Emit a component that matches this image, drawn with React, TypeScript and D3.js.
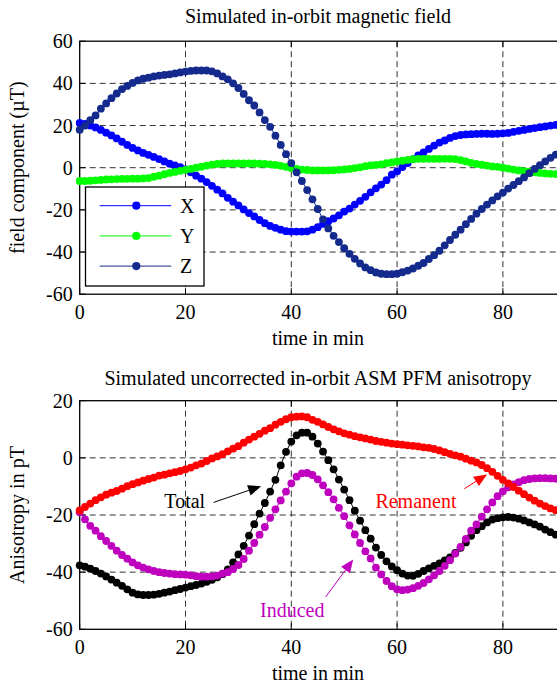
import React from "react";
import * as d3 from "d3";

// sample times (min), one marker per minute
const minutes = d3.range(0, 91);

// top panel: field components in uT
const fieldX = [
  21.2, 20.8, 20.0, 19.1, 17.9, 16.6, 15.3, 13.9, 12.3, 10.8,
  9.4, 8.2, 7.0, 6.1, 5.1, 4.1, 3.0, 1.9, 1.1, 0.3,
  -0.8, -2.2, -3.8, -5.2, -6.8, -8.6, -10.4, -12.2, -14.3, -16.1,
  -17.9, -19.8, -21.5, -23.1, -24.8, -26.3, -27.6, -28.5, -29.4, -30.1,
  -30.3, -30.3, -30.3, -30.2, -29.4, -28.2, -26.6, -25.4, -24.1, -22.6,
  -20.8, -19.4, -17.5, -15.7, -13.8, -11.7, -9.8, -8.0, -5.9, -3.3,
  -1.7, 0.3, 2.2, 4.1, 5.8, 7.3, 8.9, 10.5, 11.9, 12.9,
  14.1, 15.0, 15.5, 15.8, 15.9, 16.0, 16.1, 16.1, 16.0, 16.1,
  16.3, 16.5, 17.0, 17.5, 17.9, 18.4, 18.8, 19.2, 19.6, 20.0, 20.3,
];
const fieldY = [
  -6.3, -6.3, -6.2, -6.0, -5.8, -5.6, -5.5, -5.4, -5.3, -5.3,
  -5.2, -5.2, -5.1, -4.9, -4.3, -3.8, -3.1, -2.5, -2.0, -1.5,
  -1.0, -0.6, 0.0, 0.5, 1.0, 1.5, 1.8, 2.0, 2.0, 2.0,
  2.0, 2.0, 2.0, 2.0, 1.9, 1.8, 1.6, 1.3, 0.9, 0.4,
  -0.2, -0.6, -0.9, -1.1, -1.3, -1.3, -1.3, -1.3, -1.2, -1.0,
  -0.8, -0.6, -0.2, 0.2, 0.7, 1.1, 1.3, 1.6, 2.1, 2.5,
  3.0, 3.3, 3.7, 4.0, 4.2, 4.2, 4.2, 4.2, 4.2, 4.2,
  4.2, 4.1, 3.6, 3.0, 2.3, 1.8, 1.4, 1.0, 0.6, 0.4,
  0.0, -0.4, -0.9, -1.3, -1.6, -1.9, -2.2, -2.5, -2.7, -2.9, -3.0,
];
const fieldZ = [
  18.0, 20.0, 22.5, 24.8, 28.0, 30.5, 33.0, 35.2, 37.3, 38.8,
  40.2, 41.4, 42.2, 42.7, 43.3, 43.7, 44.0, 44.3, 44.7, 45.2,
  45.6, 45.9, 46.1, 46.1, 46.1, 45.7, 44.7, 43.3, 41.9, 40.0,
  37.8, 35.0, 32.0, 29.5, 26.2, 22.6, 19.4, 15.2, 10.8, 6.4,
  2.2, -2.2, -6.3, -10.6, -15.0, -19.6, -24.5, -28.8, -32.3, -35.3,
  -38.2, -40.9, -43.2, -45.4, -47.3, -48.6, -49.7, -50.3, -50.5, -50.5,
  -50.3, -49.6, -48.8, -47.8, -46.5, -45.2, -43.3, -41.5, -39.4, -36.8,
  -34.3, -31.8, -29.4, -26.8, -24.3, -21.8, -19.6, -17.5, -15.5, -13.6,
  -11.8, -9.9, -8.2, -6.4, -4.6, -2.6, -0.6, 1.2, 3.0, 4.7, 6.2,
];

// bottom panel: anisotropy in pT
const totalAniso = [
  -37.6, -38.1, -38.8, -39.6, -40.5, -41.5, -42.6, -43.7, -44.8, -46.0,
  -47.2, -47.8, -48.0, -48.0, -47.9, -47.6, -47.2, -46.8, -46.3, -45.9,
  -45.4, -44.9, -44.5, -44.0, -43.4, -42.7, -41.8, -40.7, -39.0, -36.6,
  -33.8, -30.8, -27.2, -23.2, -19.5, -15.8, -11.8, -7.7, -2.6, 2.1,
  5.7, 7.9, 8.8, 8.8, 7.4, 5.0, 2.2, -0.8, -4.0, -7.6,
  -11.1, -14.8, -18.5, -22.0, -25.3, -28.3, -31.4, -34.0, -36.2, -38.0,
  -39.3, -40.5, -41.2, -41.3, -40.6, -39.6, -38.7, -37.8, -36.9, -35.9,
  -34.8, -33.3, -31.5, -29.6, -27.3, -25.3, -23.9, -22.6, -21.6, -21.1,
  -20.8, -20.7, -20.9, -21.3, -21.9, -22.6, -23.3, -24.1, -25.1, -26.0, -26.9,
];
const inducedAniso = [
  -19.0, -21.5, -23.8, -25.5, -27.4, -29.1, -30.8, -32.5, -34.0, -35.3,
  -36.6, -37.6, -38.4, -39.0, -39.6, -40.0, -40.3, -40.5, -40.7, -40.8,
  -40.9, -41.1, -41.4, -41.6, -41.6, -41.5, -41.2, -40.5, -40.0, -38.9,
  -37.5, -35.4, -32.5, -29.8, -26.9, -24.2, -21.0, -18.0, -14.9, -11.8,
  -8.9, -6.6, -5.4, -5.3, -6.0, -7.5, -9.6, -12.0, -14.5, -17.5,
  -20.4, -23.6, -26.8, -29.8, -32.7, -35.2, -38.4, -40.8, -43.1, -44.9,
  -46.0, -46.3, -46.1, -45.6, -44.8, -43.8, -42.5, -41.1, -39.6, -37.8,
  -35.8, -33.5, -31.2, -28.4, -25.5, -23.3, -20.6, -18.0, -15.6, -13.4,
  -11.7, -10.3, -9.3, -8.5, -7.8, -7.4, -7.2, -7.1, -7.1, -7.2, -7.3,
];
const remanentAniso = [
  -18.4, -17.2, -16.0, -14.8, -13.8, -12.9, -12.2, -11.6, -10.8, -9.9,
  -9.2, -8.6, -8.0, -7.4, -6.9, -6.2, -5.9, -5.4, -5.0, -4.6,
  -4.0, -3.4, -2.6, -2.0, -1.1, -0.2, 0.5, 1.3, 2.3, 3.2,
  4.1, 5.3, 6.4, 7.4, 8.4, 9.5, 10.4, 11.6, 12.6, 13.5,
  14.2, 14.4, 14.5, 14.2, 13.3, 12.6, 11.7, 10.8, 10.0, 9.3,
  8.6, 8.1, 7.6, 7.2, 6.8, 6.4, 5.9, 5.6, 5.3, 5.0,
  4.8, 4.6, 4.4, 4.2, 4.0, 3.7, 3.5, 3.1, 2.6, 2.0,
  1.4, 0.9, 0.4, -0.3, -1.0, -1.6, -2.5, -3.6, -4.9, -6.3,
  -7.7, -8.9, -10.2, -11.5, -12.7, -13.9, -15.0, -16.0, -16.9, -17.7, -18.3,
];

const xTicks = [0, 20, 40, 60, 80];
const fieldTicks = [-60, -40, -20, 0, 20, 40, 60];
const anisoTicks = [-60, -40, -20, 0, 20];

const fieldSeries = [
  { name: "X", values: fieldX, color: "#0000ff" },
  { name: "Y", values: fieldY, color: "#00ff00" },
  { name: "Z", values: fieldZ, color: "#142a8c" },
];
const anisoSeries = [
  { name: "Total", values: totalAniso, color: "#000000" },
  { name: "Induced", values: inducedAniso, color: "#bf00bf" },
  { name: "Remanent", values: remanentAniso, color: "#ff0000" },
];

// annotation labels and arrows in data units: [t, value]
const anisoNotes = [
  { text: "Total", color: "#000000", at: [16.0, -17.6], from: [25.3, -15.6], to: [34.3, -9.9] },
  { text: "Remanent", color: "#ff0000", at: [55.9, -17.6], from: [72.7, -10.8], to: [77.0, -5.8] },
  { text: "Induced", color: "#bf00bf", at: [34.1, -55.6], from: [46.5, -48.7], to: [51.7, -35.6] },
];

const FONT = '"Liberation Serif", "Times New Roman", Times, serif';
const FS = 20;
const R = 3.9;

function Panel({ top, bottom, yDomain, yTicks, title, titleY, yLabel, series, overlay }) {
  const x = d3.scaleLinear().domain([0, 90]).range([79.7, 555.8]);
  const y = d3.scaleLinear().domain(yDomain).range([bottom, top]);
  const left = x(0);
  const right = 558;
  const line = d3
    .line<number>()
    .x((_, i) => x(minutes[i]))
    .y((d) => y(d));

  return (
    <g>
      <text x={318} y={titleY} textAnchor="middle" fontSize={FS}>
        {title}
      </text>
      {/* grid */}
      {xTicks
        .filter((t) => t > 0)
        .map((t) => (
          <line key={"gx" + t} x1={x(t)} x2={x(t)} y1={top} y2={bottom}
            stroke="#333" strokeWidth={1} strokeDasharray="6,4" />
        ))}
      {yTicks
        .filter((t) => t > yDomain[0] && t < yDomain[1])
        .map((t) => (
          <line key={"gy" + t} x1={left} x2={right} y1={y(t)} y2={y(t)}
            stroke="#333" strokeWidth={1} strokeDasharray="6,4" />
        ))}
      {/* box and inward ticks */}
      <rect x={left} y={top} width={right - left} height={bottom - top}
        fill="none" stroke="#000" strokeWidth={1.3} />
      {xTicks.map((t) => (
        <g key={"tx" + t}>
          <line x1={x(t)} x2={x(t)} y1={bottom} y2={bottom - 6} stroke="#000" />
          <line x1={x(t)} x2={x(t)} y1={top} y2={top + 6} stroke="#000" />
          <text x={x(t)} y={bottom + 24.5} textAnchor="middle" fontSize={FS}>
            {t}
          </text>
        </g>
      ))}
      {yTicks.map((t) => (
        <g key={"ty" + t}>
          <line x1={left} x2={left + 6} y1={y(t)} y2={y(t)} stroke="#000" />
          <text x={left - 7} y={y(t)} dy="0.35em" textAnchor="end" fontSize={FS}>
            {t}
          </text>
        </g>
      ))}
      <text x={318} y={bottom + 50.5} textAnchor="middle" fontSize={FS}>
        time in min
      </text>
      <text transform={`translate(24,${(top + bottom) / 2}) rotate(-90)`}
        textAnchor="middle" fontSize={FS}>
        {yLabel}
      </text>
      {/* data */}
      {series.map((s) => (
        <g key={s.name}>
          <path d={line(s.values) || ""} fill="none" stroke={s.color} strokeWidth={1} />
          {s.values.map((v, i) => (
            <circle key={i} cx={x(minutes[i])} cy={y(v)} r={R} fill={s.color} />
          ))}
        </g>
      ))}
      {overlay && overlay(x, y)}
    </g>
  );
}

function Arrow({ x1, y1, x2, y2, color }) {
  const ang = Math.atan2(y2 - y1, x2 - x1);
  const len = 13;
  const half = 5.5;
  const bx = x2 - len * Math.cos(ang);
  const by = y2 - len * Math.sin(ang);
  const px = -Math.sin(ang) * half;
  const py = Math.cos(ang) * half;
  return (
    <g>
      <line x1={x1} y1={y1} x2={bx} y2={by} stroke={color} strokeWidth={1} />
      <polygon points={`${x2},${y2} ${bx + px},${by + py} ${bx - px},${by - py}`} fill={color} />
    </g>
  );
}

export default function App() {
  return (
    <svg width={557} height={684}
      style={{ position: "absolute", left: 0, top: 0, background: "#fff", fontFamily: FONT }}>
      <rect width={557} height={684} fill="#fff" />
      <Panel
        top={41.2}
        bottom={294.2}
        yDomain={[-60, 60]}
        yTicks={fieldTicks}
        title="Simulated in-orbit magnetic field"
        titleY={23}
        yLabel="field component (µT)"
        series={fieldSeries}
        overlay={() => (
          <g>
            <rect x={85.5} y={187} width={118.5} height={99} fill="#fff" stroke="#000" strokeWidth={1.3} />
            {fieldSeries.map((s, i) => (
              <g key={s.name}>
                <line x1={99.7} x2={171.3} y1={205.7 + i * 30.2} y2={205.7 + i * 30.2}
                  stroke={s.color} strokeWidth={1} />
                <circle cx={136.3} cy={205.7 + i * 30.2} r={R + 0.2} fill={s.color} />
                <text x={180} y={205.7 + i * 30.2} dy="0.35em" fontSize={FS}>
                  {s.name}
                </text>
              </g>
            ))}
          </g>
        )}
      />
      <Panel
        top={400.7}
        bottom={629.3}
        yDomain={[-60, 20]}
        yTicks={anisoTicks}
        title="Simulated uncorrected in-orbit ASM PFM anisotropy"
        titleY={385}
        yLabel="Anisotropy in pT"
        series={anisoSeries}
        overlay={(x, y) => (
          <g>
            {anisoNotes.map((n) => (
              <g key={n.text}>
                <text x={x(n.at[0])} y={y(n.at[1])} fill={n.color} fontSize={FS}>
                  {n.text}
                </text>
                <Arrow x1={x(n.from[0])} y1={y(n.from[1])} x2={x(n.to[0])} y2={y(n.to[1])} color={n.color} />
              </g>
            ))}
          </g>
        )}
      />
    </svg>
  );
}
